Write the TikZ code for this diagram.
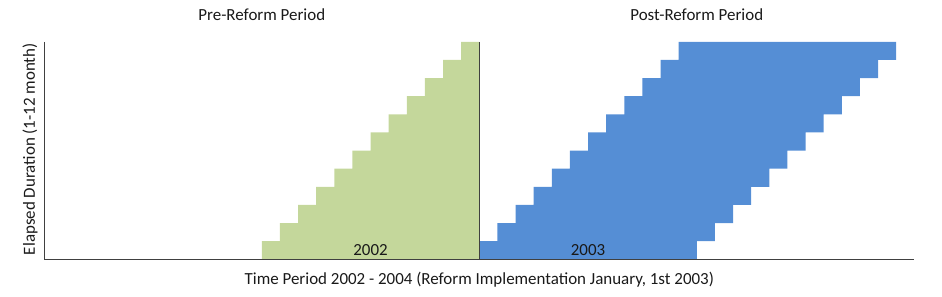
\documentclass[tikz,border=0pt]{standalone}
\usepackage{fontspec}
\setmainfont{Carlito}
\usepackage{xcolor}
\usetikzlibrary{positioning,calc}
\definecolor{preGreen}{HTML}{C4D79B}
\definecolor{postBlue}{HTML}{558ED5}
\definecolor{axisGray}{HTML}{404040}
\tikzset{lbl/.style={text=black!90,font=\fontsize{13.3}{15}\selectfont,inner sep=0pt}}

\begin{document}
\begin{tikzpicture}[x=0.5cm,y=0.5cm]
\useasboundingbox (-2.444,-2.055) rectangle (49.53,14.31);
% pre-reform staircase
\fill[preGreen] {(12,0) -- (12,1) -- (13,1) -- (13,2) -- (14,2) -- (14,3) -- (15,3) -- (15,4)
  -- (16,4) -- (16,5) -- (17,5) -- (17,6) -- (18,6) -- (18,7) -- (19,7) -- (19,8)
  -- (20,8) -- (20,9) -- (21,9) -- (21,10) -- (22,10) -- (22,11) -- (23,11) -- (23,12)
  -- (24,12) -- (24,0) -- cycle};
% post-reform staircase
\fill[postBlue] {(24,0) -- (24,1) -- (25,1) -- (25,2) -- (26,2) -- (26,3) -- (27,3) -- (27,4)
  -- (28,4) -- (28,5) -- (29,5) -- (29,6) -- (30,6) -- (30,7) -- (31,7) -- (31,8)
  -- (32,8) -- (32,9) -- (33,9) -- (33,10) -- (34,10) -- (34,11) -- (35,11) -- (35,12)
  -- (47,12) -- (47,11) -- (46,11) -- (46,10) -- (45,10) -- (45,9) -- (44,9) -- (44,8)
  -- (43,8) -- (43,7) -- (42,7) -- (42,6) -- (41,6) -- (41,5) -- (40,5) -- (40,4)
  -- (39,4) -- (39,3) -- (38,3) -- (38,2) -- (37,2) -- (37,1) -- (36,1) -- (36,0) -- cycle};
%\draw[help lines] (0,0) grid (48,12);
\draw[axisGray,line width=0.6pt] {(0,12) -- (0,0) -- (48,0)};
\draw[axisGray,line width=0.6pt] {(24,0) -- (24,12)};
\node[lbl] (preTitle) at (12,13.5) {Pre-Reform Period}; %label
\node[lbl] (postTitle) at (36,13.5) {Post-Reform Period}; %label
\node[lbl] (preYear) at (18,0.5) {2002}; %label
\node[lbl] (postYear) at (30,0.5) {2003}; %label
\node[lbl] (xLabel) at (24,-1.12) {Time Period 2002 - 2004 (Reform Implementation January, 1st 2003)}; %label
\node[lbl,rotate=90] (yLabel) at (-0.79,6.08) {Elapsed Duration (1-12 month)}; %label
\end{tikzpicture}
\end{document}
